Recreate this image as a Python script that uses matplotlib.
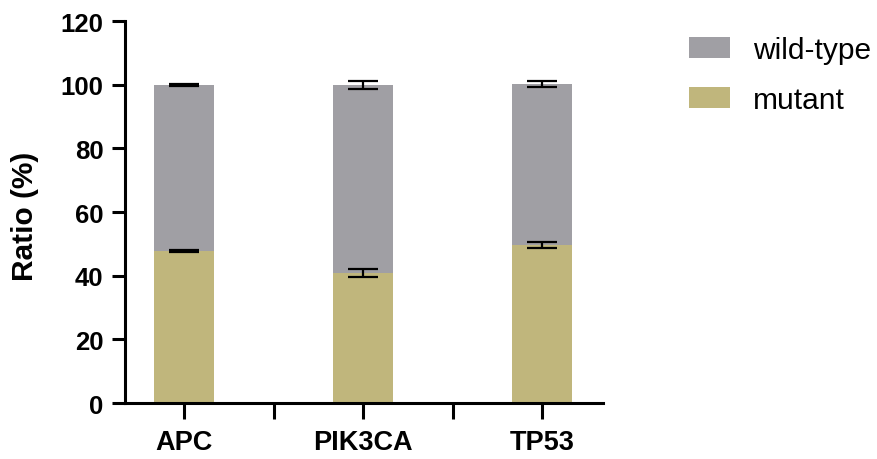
import matplotlib
matplotlib.use("Agg")
import matplotlib.pyplot as plt
import numpy as np

plt.rcParams['font.family'] = ['Liberation Sans', 'DejaVu Sans']

genes = ["APC", "PIK3CA", "TP53"]
mutant = [47.8, 40.9, 49.7]
mutant_err = [0.25, 1.3, 0.95]
wild_type = [52.2, 59.1, 50.6]
total_err = [0.25, 1.3, 1.0]
yticks = [0, 20, 40, 60, 80, 100, 120]

c_wt = "#A09FA4"
c_mut = "#C0B67C"

fig = plt.figure(figsize=(8.78, 4.6), dpi=100)
ax = fig.add_axes([0.1424, 0.1217, 0.5444, 0.8303])

x = np.arange(len(genes))
w = 0.335
ax.bar(x, mutant, width=w, color=c_mut, label="mutant", zorder=2)
ax.bar(x, wild_type, width=w, bottom=mutant, color=c_wt, label="wild-type", zorder=2)
totals = np.array(mutant) + np.array(wild_type)
ax.errorbar(x, mutant, yerr=mutant_err, fmt="none", ecolor="black", elinewidth=1.6,
            capsize=10.5, capthick=1.6, zorder=3)
ax.errorbar(x, totals, yerr=total_err, fmt="none", ecolor="black", elinewidth=1.6,
            capsize=10.5, capthick=1.6, zorder=3)

ax.set_xlim(-0.33, 2.34)
ax.set_ylim(0, 120)
ax.set_yticks(yticks)
ax.set_xticks(x)
ax.set_xticks([0.5, 1.5], minor=True)
ax.set_xticklabels(genes, fontsize=19.5, fontweight="bold")
ax.set_yticklabels([str(v) for v in yticks], fontsize=18.5, fontweight="bold")
ax.set_ylabel("Ratio (%)", fontsize=21.5, fontweight="bold")
ax.yaxis.set_label_coords(-0.18, 0.49)

for s in ["top", "right"]:
    ax.spines[s].set_visible(False)
for s in ["left", "bottom"]:
    ax.spines[s].set_linewidth(2.2)
ax.tick_params(axis="y", which="major", length=9.5, width=2.2, pad=6)
ax.tick_params(axis="x", which="major", length=11.5, width=2.2, pad=7)
ax.tick_params(axis="x", which="minor", length=11.5, width=2.2)

handles, labels = ax.get_legend_handles_labels()
leg = fig.legend(handles[::-1], labels[::-1], loc="upper left",
                 bbox_to_anchor=(0.785, 0.92), frameon=False, fontsize=21.5,
                 handlelength=1.37, handleheight=0.70, handletextpad=0.77,
                 labelspacing=0.74, borderaxespad=0, borderpad=0)

fig.savefig("out.png", dpi=100)
